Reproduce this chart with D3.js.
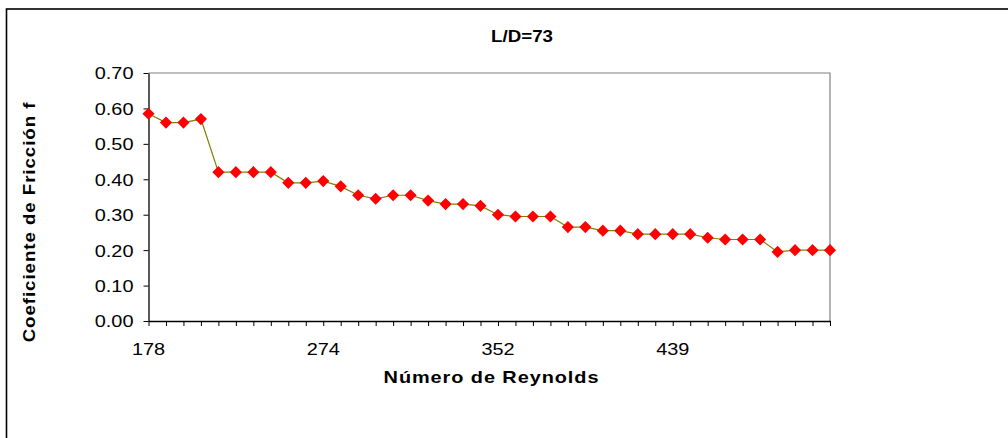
<!DOCTYPE html>
<html><head><meta charset="utf-8">
<script src="https://cdn.jsdelivr.net/npm/d3@7"></script>
<style>html,body{margin:0;padding:0;background:#fff;overflow:hidden}</style>
</head><body>
<svg id="c" width="1008" height="438"></svg>
<script>
// Data
const categoryIndex = d3.range(40);
const tickIndex = [0, 10, 20, 30];
const tickLabels = ["178", "274", "352", "439"];
const frictionValues = [
  0.585, 0.56, 0.56, 0.57, 0.42, 0.42, 0.42, 0.42, 0.39, 0.39,
  0.395, 0.38, 0.355, 0.345, 0.355, 0.355, 0.34, 0.33, 0.33, 0.325,
  0.30, 0.295, 0.295, 0.295, 0.265, 0.265, 0.255, 0.255, 0.245, 0.245,
  0.245, 0.245, 0.235, 0.23, 0.23, 0.23, 0.195, 0.20, 0.20, 0.20
];
const yTicks = [0, 0.1, 0.2, 0.3, 0.4, 0.5, 0.6, 0.7];
const title = "L/D=73";
const xTitle = "Número de Reynolds";
const yTitle = "Coeficiente de Fricción f";

const svg = d3.select("#c");
const font = "'Liberation Sans', Arial, sans-serif";
const SX = 1.17;

// outer chart border
svg.append("rect").attr("x", 6.5).attr("y", 9).attr("width", 1100).attr("height", 1000)
  .attr("fill", "none").attr("stroke", "#000").attr("stroke-width", 1.6);

const L = 148.5, R = 830, T = 73, B = 321;
const x = d3.scalePoint().domain(categoryIndex).range([L, R]);
const y = d3.scaleLinear().domain([0, 0.7]).range([B, T]);

// plot frame top/right gray
svg.append("path").attr("d", `M${L},${T}H${R}V${B}`).attr("fill", "none")
  .attr("stroke", "#808080").attr("stroke-width", 1.2);

// y axis
const yAxis = svg.append("g").attr("transform", `translate(${L},0)`)
  .call(d3.axisLeft(y).tickValues(yTicks).tickFormat(d3.format(".2f")).tickSize(5).tickSizeOuter(0));
yAxis.select(".domain").attr("stroke", "#000").attr("stroke-width", 1.3);
yAxis.selectAll(".tick line").attr("stroke", "#000");
yAxis.selectAll(".tick text").attr("font-family", font).attr("font-size", 17).attr("fill", "#000")
  .attr("x", null).attr("dy", "0.35em")
  .attr("transform", `translate(-15,0) scale(${SX},1)`).attr("text-anchor", "end");

// x axis
const xAxis = svg.append("g").attr("transform", `translate(0,${B})`)
  .call(d3.axisBottom(x).tickFormat(() => "").tickSize(5).tickSizeOuter(0));
xAxis.select(".domain").attr("stroke", "#000").attr("stroke-width", 1.3);
xAxis.selectAll(".tick line").attr("stroke", "#000");

svg.append("g").selectAll("text").data(tickIndex).join("text")
  .attr("transform", (d) => `translate(${x(d)},${B + 34}) scale(${SX},1)`)
  .attr("text-anchor", "middle").attr("font-family", font).attr("font-size", 17)
  .text((d, i) => tickLabels[i]);

// line
svg.append("path").datum(frictionValues)
  .attr("d", d3.line().x((d, i) => x(categoryIndex[i])).y((d) => y(d)))
  .attr("fill", "none").attr("stroke", "#808000").attr("stroke-width", 1.2);

// diamond markers
svg.append("g").selectAll("path").data(frictionValues).join("path")
  .attr("d", d3.symbol(d3.symbolSquare, 74)())
  .attr("transform", (d, i) => `translate(${x(categoryIndex[i])},${y(d)}) rotate(45)`)
  .attr("fill", "#ff0000");

// titles
svg.append("text").attr("transform", `translate(522,42) scale(${SX},1)`)
  .attr("text-anchor", "middle").attr("font-family", font).attr("font-weight", "bold")
  .attr("font-size", 16).text(title);
svg.append("text").attr("transform", `translate(491.5,383) scale(${SX},1)`)
  .attr("text-anchor", "middle").attr("font-family", font).attr("font-weight", "bold")
  .attr("font-size", 17).attr("letter-spacing", 0.8).text(xTitle);
svg.append("text").attr("transform", `translate(35,222) rotate(-90) scale(${SX},1)`)
  .attr("text-anchor", "middle").attr("font-family", font).attr("font-weight", "bold")
  .attr("font-size", 16).attr("letter-spacing", 0.8).text(yTitle);
</script>
</body></html>
